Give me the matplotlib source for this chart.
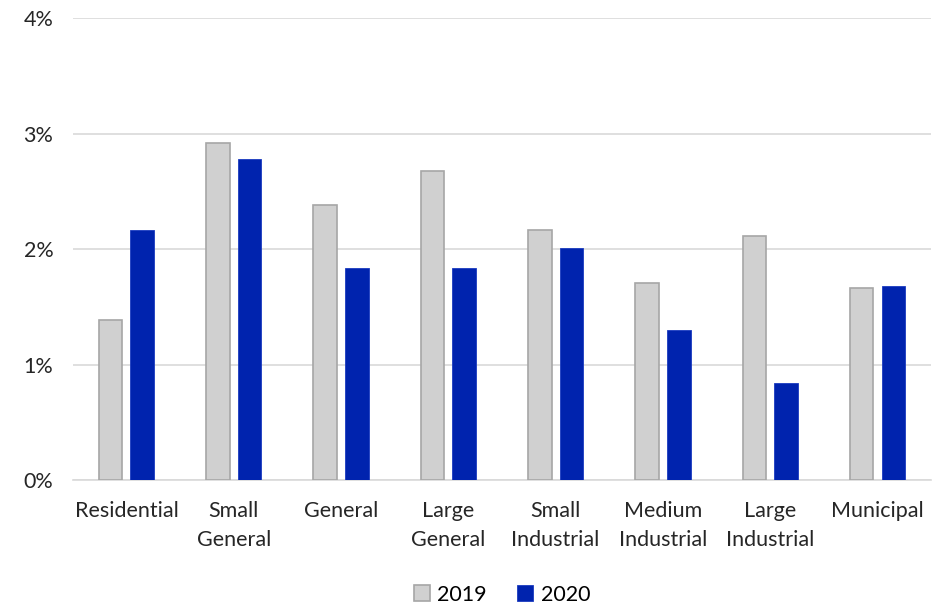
import numpy as np
import matplotlib.pyplot as plt
from matplotlib.ticker import PercentFormatter

plt.rcParams['font.family'] = ['Lato', 'DejaVu Sans']

# Rate change by customer class
categories = ["Residential", "Small\nGeneral", "General", "Large\nGeneral",
              "Small\nIndustrial", "Medium\nIndustrial", "Large\nIndustrial", "Municipal"]
vals_2019 = [1.39, 2.92, 2.38, 2.68, 2.17, 1.71, 2.11, 1.66]
vals_2020 = [2.17, 2.78, 1.84, 1.84, 2.01, 1.30, 0.84, 1.68]

fig = plt.figure(figsize=(9.33, 6.08), dpi=100)
ax = fig.add_axes([0.078, 0.2105, 0.92, 0.7595])

x = np.arange(len(categories))
w = 0.22
off = 0.148
ax.bar(x - off, vals_2019, w, color='#D0D0D0', edgecolor='#A6A6A6', linewidth=1.2, label='2019', zorder=3)
ax.bar(x + off, vals_2020, w, color='#0023AE', edgecolor='#1A3BC0', linewidth=0.6, label='2020', zorder=3)

ax.set_ylim(0, 4)
ax.set_xlim(-0.5, len(categories) - 0.5)
ax.set_yticks([0, 1, 2, 3, 4])
ax.yaxis.set_major_formatter(PercentFormatter(decimals=0))
ax.grid(axis='y', color='#D9D9D9', linewidth=1.2, zorder=0)
for s in ['top', 'right', 'left']:
    ax.spines[s].set_visible(False)
ax.spines['bottom'].set_color('#D9D9D9')
ax.spines['bottom'].set_linewidth(1.2)
ax.tick_params(axis='both', length=0, labelsize=15.5, colors='#262626')
ax.tick_params(axis='y', pad=14)
ax.tick_params(axis='x', pad=15)
ax.set_xticks(x)
ax.set_xticklabels(categories, linespacing=1.6)

ax.legend(loc='upper center', bbox_to_anchor=(0.5, -0.185), ncol=2, frameon=False,
          fontsize=15.5, handlelength=0.75, handleheight=0.75, handletextpad=0.35, columnspacing=1.4)

fig.savefig('out.png', dpi=100)
